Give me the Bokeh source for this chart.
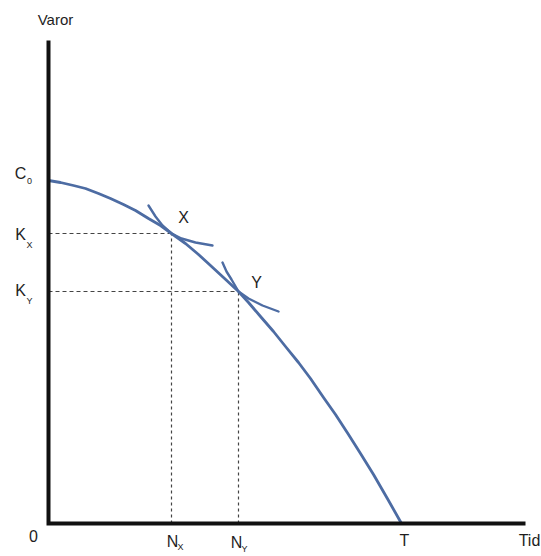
from bokeh.plotting import figure
from bokeh.models import Range1d
from bokeh.core.properties import value
from bokeh.embed import file_html
from bokeh.resources import INLINE

# ---- data (arbitrary value units) ----
curve_t = [0, 12, 25, 37, 50, 62, 75, 87, 100, 112, 123, 137, 150, 162, 175,
           190, 200, 212, 225, 237, 250, 262, 275, 287, 300, 312, 325, 340, 353]
curve_v = [343, 341, 338, 335, 330, 325, 319, 313, 305, 298, 290, 280, 269, 258, 246,
           232, 221, 207, 192, 177, 161, 145, 126, 109, 89, 70, 49, 23, 0]

points_name = ["X", "Y"]
points_t = [123, 190]          # N_X, N_Y
points_v = [290, 232]          # K_X, K_Y

# short convex curves touching the main curve at X and Y
touch_x_t = [100, 107, 114, 123, 133, 147, 164]
touch_x_v = [318, 307, 298, 290, 285, 281, 278]
touch_y_t = [174, 178, 183, 190, 200, 214, 230]
touch_y_v = [261, 252, 244, 232, 225, 218, 212]

c0_value = 343
t_end = 353
axis_t_max = 477
axis_v_max = 483

FONT = value("Liberation Sans")
CURVE = "#4d6ca3"
TXT = "#1e1e1e"

p = figure(width=541, height=556, output_backend="svg", toolbar_location=None,
           x_range=Range1d(-48, 493), y_range=Range1d(-33, 523),
           min_border=0, min_border_left=0, min_border_right=0,
           min_border_top=0, min_border_bottom=0)
p.axis.visible = False
p.grid.visible = False
p.outline_line_color = None
p.background_fill_color = "white"
p.border_fill_color = "white"

# dashed guides
for t, v in zip(points_t, points_v):
    p.line([0, t], [v, v], line_color="#444444", line_width=1.2, line_dash="4 3")
    p.line([t, t], [0, v], line_color="#444444", line_width=1.2, line_dash="3 3")

# main curve
p.line(curve_t, curve_v, line_color=CURVE, line_width=2.8, line_join="round")

# touching curves
for tt, vv in ((touch_x_t, touch_x_v), (touch_y_t, touch_y_v)):
    p.line(tt, vv, line_color=CURVE, line_width=2.4, line_cap="round",
           line_join="round")

# axes
p.line([0, 0, axis_t_max], [axis_v_max, 0, 0], line_color="#111111",
       line_width=4, line_join="miter", line_cap="butt")

# point labels
p.text(x=points_t, y=points_v, text=points_name, text_font=FONT,
       text_font_size="16px", text_color=TXT, text_align="center",
       text_baseline="middle", x_offset=[12, 18], y_offset=[-16, -9])

def label(x, y, txt, xo, yo, size="16px"):
    p.text(x=[x], y=[y], text=[txt], text_font=FONT, text_font_size=size,
           text_color=TXT, text_align="center", text_baseline="middle",
           x_offset=xo, y_offset=yo)

# y-side labels
label(0, c0_value, "C", -28, -7)
label(0, c0_value, "0", -19, 0, "9px")
label(0, points_v[0], "K", -28, 1)
label(0, points_v[0], "X", -19, 11, "9px")
label(0, points_v[1], "K", -28, -1)
label(0, points_v[1], "Y", -19, 9, "9px")

# x-side labels
label(0, 0, "0", -15, 12)
label(points_t[0], 0, "N", 1, 18)
label(points_t[0], 0, "X", 9, 23, "9px")
label(points_t[1], 0, "N", -2, 19)
label(points_t[1], 0, "Y", 6, 25, "9px")
label(t_end, 0, "T", 3, 17)
label(axis_t_max, 0, "Tid", 4, 17)

# axis title
label(0, axis_v_max, "Varor", 7, -21, "15px")

open("out.html", "w").write(file_html(p, INLINE))
